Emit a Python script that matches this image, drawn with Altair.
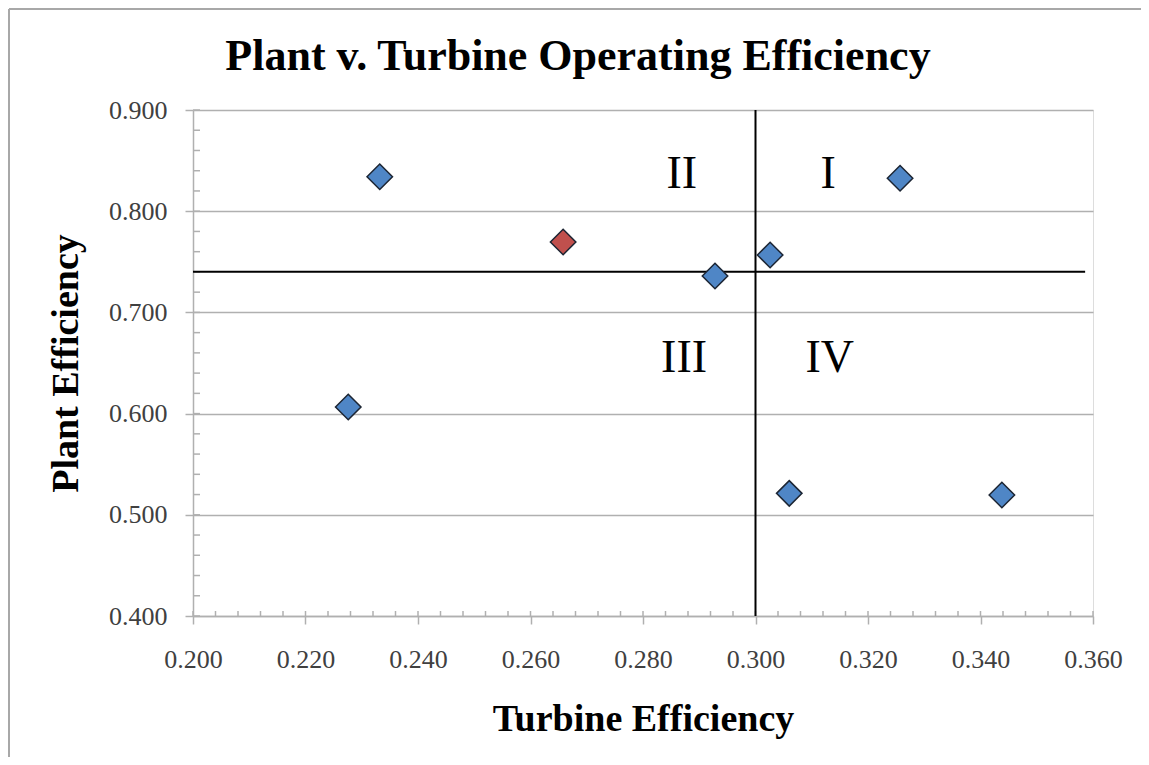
import altair as alt
import pandas as pd

# ---- data ----
turbine_eff = [0.2332, 0.2658, 0.2928, 0.3026, 0.3257, 0.2276, 0.3060, 0.3438]
plant_eff = [0.8341, 0.7696, 0.7360, 0.7567, 0.8325, 0.6065, 0.5212, 0.5196]
point_group = ["other", "highlight", "other", "other", "other", "other", "other", "other"]

x_ticks = [0.20, 0.22, 0.24, 0.26, 0.28, 0.30, 0.32, 0.34, 0.36]
y_ticks = [0.4, 0.5, 0.6, 0.7, 0.8, 0.9]
x_minor = [round(0.200 + 0.004 * i, 3) for i in range(41)]
y_minor = [round(0.40 + 0.02 * i, 2) for i in range(26)]

turbine_split = [0.300]
plant_split = [0.7402]
plant_split_x_end = [0.3586]

quadrant_names = ["II", "I", "III", "IV"]
quadrant_x = [0.2869, 0.3129, 0.2873, 0.3132]
quadrant_y = [0.8229, 0.8229, 0.6411, 0.6411]

chart_title = ["Plant v. Turbine Operating Efficiency"]

points = pd.DataFrame({"turbine": turbine_eff, "plant": plant_eff, "group": point_group})
minor_x_df = pd.DataFrame({"v": x_minor})
minor_y_df = pd.DataFrame({"v": y_minor})
vline_df = pd.DataFrame({"x": turbine_split, "y0": [y_ticks[0]], "y1": [y_ticks[-1]]})
hline_df = pd.DataFrame({"y": plant_split, "x0": [x_ticks[0]], "x1": plant_split_x_end})
quad_df = pd.DataFrame({"name": quadrant_names, "x": quadrant_x, "y": quadrant_y})
title_df = pd.DataFrame({"t": chart_title})

W, H = 900, 506
PAD_L, PAD_T, PAD_R, PAD_B = 185, 102, 48, 141
GRAY = "#b0b0b0"
LABEL = "#404040"
SERIF = "Liberation Serif"

xs = alt.Scale(domain=[0.2, 0.36], nice=False, zero=False)
ys = alt.Scale(domain=[0.4, 0.9], nice=False, zero=False)

x_axis = alt.Axis(values=x_ticks, format=".3f", grid=False, tickSize=8, tickWidth=1.5,
                  tickColor=GRAY, domainColor=GRAY, domainWidth=1.5, labelFlush=False,
                  labelOverlap=False,
                  labelFont=SERIF, labelFontSize=26, labelColor=LABEL, labelPadding=22,
                  title="Turbine Efficiency", titleFont=SERIF, titleFontSize=38,
                  titleFontWeight="bold", titleColor="black", titleX=450, titleY=114,
                  titleBaseline="alphabetic", titleAlign="center")
y_axis = alt.Axis(values=y_ticks, format=".3f", grid=True, gridColor=GRAY, gridWidth=1.5,
                  tickSize=8, tickWidth=1.5, tickColor=GRAY, domainColor=GRAY, domainWidth=1.5,
                  labelFlush=False, labelOverlap=False,
                  labelFont=SERIF, labelFontSize=26, labelColor=LABEL, labelPadding=18,
                  title="Plant Efficiency", titleFont=SERIF, titleFontSize=38,
                  titleFontWeight="bold", titleColor="black", titleX=-116, titleY=253,
                  titleAngle=270, titleBaseline="alphabetic", titleAlign="center")

base_points = alt.Chart(points).mark_point(
    shape="diamond", filled=True, size=650, stroke="#1c2533", strokeWidth=1.5, opacity=1
).encode(
    x=alt.X("turbine:Q", scale=xs, axis=x_axis),
    y=alt.Y("plant:Q", scale=ys, axis=y_axis),
    fill=alt.Fill("group:N", scale=alt.Scale(domain=["other", "highlight"],
                                             range=["#4f86c6", "#c0504d"]), legend=None),
)

minor_x = alt.Chart(minor_x_df).mark_rule(color=GRAY, strokeWidth=1.5).encode(
    x=alt.X("v:Q", scale=xs), y=alt.value(H), y2=alt.value(H - 5)
)
minor_y = alt.Chart(minor_y_df).mark_rule(color=GRAY, strokeWidth=1.5).encode(
    y=alt.Y("v:Q", scale=ys), x=alt.value(0), x2=alt.value(7)
)
vline = alt.Chart(vline_df).mark_rule(color="black", strokeWidth=2).encode(
    x=alt.X("x:Q", scale=xs), y=alt.Y("y0:Q", scale=ys), y2="y1:Q"
)
hline = alt.Chart(hline_df).mark_rule(color="black", strokeWidth=2).encode(
    y=alt.Y("y:Q", scale=ys), x=alt.X("x0:Q", scale=xs), x2="x1:Q"
)
quad_text = alt.Chart(quad_df).mark_text(
    font=SERIF, fontSize=46, color="black", align="center", baseline="alphabetic"
).encode(
    x=alt.X("x:Q", scale=xs), y=alt.Y("y:Q", scale=ys), text="name:N"
)

# chart title, placed above the plot area
title_text = alt.Chart(title_df).mark_text(
    font=SERIF, fontSize=44, fontWeight="bold", color="black", align="center",
    baseline="alphabetic"
).encode(x=alt.value(385), y=alt.value(-40), text="t:N")

# outer frame of the chart picture (top and left edges)
frame_top = alt.Chart(title_df).mark_rule(color="#a8a8a8", strokeWidth=2).encode(
    x=alt.value(-PAD_L + 1), x2=alt.value(W + PAD_R), y=alt.value(-PAD_T + 1)
)
frame_left = alt.Chart(title_df).mark_rule(color="#a8a8a8", strokeWidth=2).encode(
    x=alt.value(-PAD_L + 1), y=alt.value(-PAD_T + 1), y2=alt.value(H + PAD_B)
)

chart = alt.layer(frame_top, frame_left, minor_x, minor_y, vline, hline, base_points,
                  quad_text, title_text).properties(
    width=W, height=H,
    autosize=alt.AutoSizeParams(type="none"),
    padding={"left": PAD_L, "top": PAD_T, "right": PAD_R, "bottom": PAD_B},
).configure_view(stroke=None).configure(background="white")

chart.save("out.html", embed_options={"renderer": "svg", "actions": False})
